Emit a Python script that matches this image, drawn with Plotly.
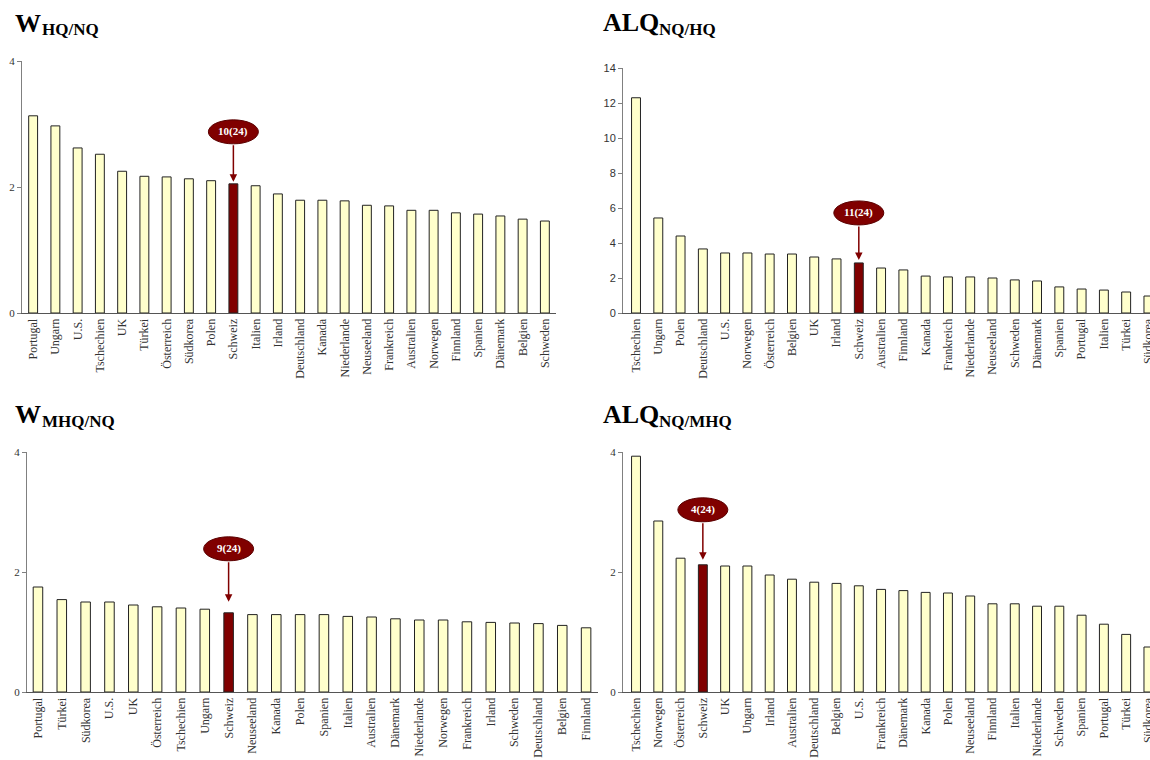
import plotly.graph_objects as go

cats1 = ["Portugal", "Ungarn", "U.S.", "Tschechien", "UK", "Türkei", "Österreich", "Südkorea",
         "Polen", "Schweiz", "Italien", "Irland", "Deutschland", "Kanada", "Niederlande",
         "Neuseeland", "Frankreich", "Australien", "Norwegen", "Finnland", "Spanien",
         "Dänemark", "Belgien", "Schweden"]
vals1 = [3.13, 2.97, 2.62, 2.52, 2.25, 2.17, 2.16, 2.13, 2.10, 2.05, 2.02, 1.89, 1.79, 1.79,
         1.78, 1.71, 1.70, 1.63, 1.63, 1.59, 1.57, 1.54, 1.49, 1.46]

cats2 = ["Tschechien", "Ungarn", "Polen", "Deutschland", "U.S.", "Norwegen", "Österreich",
         "Belgien", "UK", "Irland", "Schweiz", "Australien", "Finnland", "Kanada", "Frankreich",
         "Niederlande", "Neuseeland", "Schweden", "Dänemark", "Spanien", "Portugal", "Italien",
         "Türkei", "Südkorea"]
vals2 = [12.3, 5.43, 4.40, 3.66, 3.43, 3.43, 3.37, 3.37, 3.20, 3.09, 2.86, 2.57, 2.46, 2.11,
         2.06, 2.06, 2.00, 1.89, 1.83, 1.49, 1.37, 1.31, 1.20, 0.97]

cats3 = ["Portugal", "Türkei", "Südkorea", "U.S.", "UK", "Österreich", "Tschechien", "Ungarn",
         "Schweiz", "Neuseeland", "Kanada", "Polen", "Spanien", "Italien", "Australien",
         "Dänemark", "Niederlande", "Norwegen", "Frankreich", "Irland", "Schweden",
         "Deutschland", "Belgien", "Finnland"]
vals3 = [1.75, 1.54, 1.50, 1.50, 1.45, 1.42, 1.40, 1.38, 1.32, 1.29, 1.29, 1.29, 1.29, 1.26,
         1.25, 1.22, 1.20, 1.20, 1.17, 1.16, 1.15, 1.14, 1.11, 1.07]

cats4 = ["Tschechien", "Norwegen", "Österreich", "Schweiz", "UK", "Ungarn", "Irland",
         "Australien", "Deutschland", "Belgien", "U.S.", "Frankreich", "Dänemark", "Kanada",
         "Polen", "Neuseeland", "Finnland", "Italien", "Niederlande", "Schweden", "Spanien",
         "Portugal", "Türkei", "Südkorea"]
vals4 = [3.93, 2.85, 2.23, 2.12, 2.10, 2.10, 1.95, 1.88, 1.83, 1.81, 1.77, 1.71, 1.69, 1.66,
         1.65, 1.60, 1.47, 1.47, 1.43, 1.43, 1.28, 1.13, 0.96, 0.75]

titles_main = ["W", "ALQ", "W", "ALQ"]
titles_sub = ["HQ/NQ", "NQ/HQ", "MHQ/NQ", "NQ/MHQ"]
highlight = "Schweiz"

W, H = 1150, 760
BAR_FILL = "#FFFFCC"
HL_FILL = "#800000"
SERIF = "Liberation Serif, Times New Roman, serif"
SANS = "Liberation Sans, Arial, sans-serif"

def px_x(p):
    return p / W

def px_y(p):
    return 1 - p / H

panels = [
    dict(cats=cats1, vals=vals1, xd=(22, 556), yd=(313, 61), xr=[-0.5, 23.5], yr=[0, 4],
         yt=[0, 2, 4], yfont=SERIF, ell=52, gap=2, tpos=((13, 23), (40, 29.5))),
    dict(cats=cats2, vals=vals2, xd=(623, 1150), yd=(313, 68), xr=[-0.584, 23.07], yr=[0, 14],
         yt=list(range(0, 15, 2)), yfont=SANS, ell=50, gap=3, tpos=((601, 22.5), (657, 29.5))),
    dict(cats=cats3, vals=vals3, xd=(27, 598), yd=(692, 452), xr=[-0.46, 23.5], yr=[0, 4],
         yt=[0, 2, 4], yfont=SERIF, ell=64, gap=11, tpos=((13, 414), (40, 422))),
    dict(cats=cats4, vals=vals4, xd=(623, 1150), yd=(692, 452), xr=[-0.584, 23.07], yr=[0, 4],
         yt=[0, 2, 4], yfont=SERIF, ell=55, gap=5, tpos=((601, 414), (657, 421))),
]

fig = go.Figure()
shapes = []
annotations = []
layout_axes = {}

for i, p in enumerate(panels):
    n = i + 1
    xa = "x" if n == 1 else f"x{n}"
    ya = "y" if n == 1 else f"y{n}"
    colors = [HL_FILL if c == highlight else BAR_FILL for c in p["cats"]]
    fig.add_trace(go.Bar(
        x=p["cats"], y=p["vals"], xaxis=xa, yaxis=ya, width=0.4,
        marker=dict(color=colors, line=dict(color="#222222", width=1)),
        showlegend=False, hoverinfo="x+y"))

    layout_axes[f"xaxis{'' if n == 1 else n}"] = dict(
        domain=[px_x(p["xd"][0]), px_x(p["xd"][1])], anchor=ya, type="category",
        range=p["xr"], showgrid=False, zeroline=False, showline=True, automargin=False,
        linecolor="#555555", linewidth=1, ticks="", tickangle=-90, ticklabeloverflow="allow",
        tickfont=dict(family=SERIF, size=12, color="#333333"), fixedrange=True)
    layout_axes[f"yaxis{'' if n == 1 else n}"] = dict(
        domain=[px_y(p["yd"][0]), px_y(p["yd"][1])], anchor=xa, range=p["yr"],
        tickmode="array", tickvals=p["yt"], showgrid=False, zeroline=False, automargin=False,
        showline=True, linecolor="#808080", linewidth=1, ticks="outside", ticklen=4,
        tickcolor="#808080", tickfont=dict(family=p["yfont"], size=11, color="#333333"),
        fixedrange=True)

    idx = p["cats"].index(highlight)
    val = p["vals"][idx]
    rank_text = f"{idx + 1}({len(p['cats'])})"
    shapes.append(dict(type="circle", xref=xa, yref=ya, xsizemode="pixel", ysizemode="pixel",
                       xanchor=idx, yanchor=val, x0=-25, x1=25,
                       y0=p["ell"] - 12, y1=p["ell"] + 12,
                       fillcolor=HL_FILL, line=dict(color="#5a0000", width=1)))
    annotations.append(dict(xref=xa, yref=ya, x=idx, y=val, ax=0, ay=-(p["ell"] - 12),
                            axref="pixel", ayref="pixel", text="", showarrow=True,
                            arrowhead=2, arrowsize=1, arrowwidth=1.5, arrowcolor=HL_FILL,
                            standoff=p["gap"]))
    annotations.append(dict(xref=xa, yref=ya, x=idx, y=val, yshift=p["ell"], text=f"<b>{rank_text}</b>",
                            showarrow=False, font=dict(family=SERIF, size=11, color="white")))

    (mx, my), (sx, sy) = p["tpos"]
    annotations.append(dict(xref="paper", yref="paper", x=px_x(mx), y=px_y(my),
                            xanchor="left", yanchor="middle", showarrow=False,
                            text=f"<b>{titles_main[i]}</b>",
                            font=dict(family=SERIF, size=26, color="black")))
    annotations.append(dict(xref="paper", yref="paper", x=px_x(sx), y=px_y(sy),
                            xanchor="left", yanchor="middle", showarrow=False,
                            text=f"<b>{titles_sub[i]}</b>",
                            font=dict(family=SERIF, size=17, color="black")))

fig.update_layout(
    width=W, height=H, margin=dict(l=0, r=0, t=0, b=0, autoexpand=False),
    paper_bgcolor="white", plot_bgcolor="white",
    shapes=shapes, annotations=annotations, bargap=0.6,
    **layout_axes)

page_js = ("document.body.style.margin='0';"
           "document.body.style.overflow='hidden';"
           "document.documentElement.style.overflow='hidden';")
fig.write_html("out.html", post_script=page_js, config={"displayModeBar": False})
